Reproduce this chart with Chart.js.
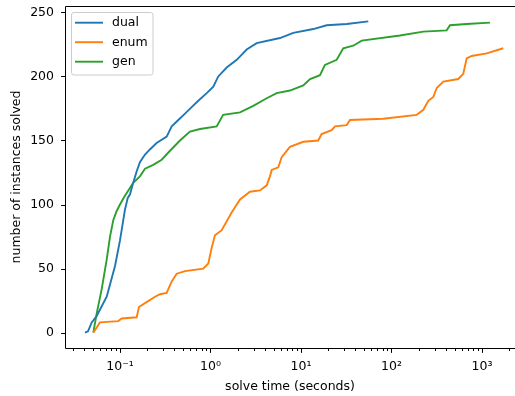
<!DOCTYPE html>
<html>
<head>
<meta charset="utf-8">
<script src="https://cdn.jsdelivr.net/npm/chart.js"></script>
<style>
  html, body { margin: 0; padding: 0; background: #fff; }
</style>
</head>
<body>
<canvas id="chart" width="515" height="396"></canvas>
<script>
const dualTimes = [0.041, 0.0443, 0.0487, 0.0553, 0.0713, 0.0881, 0.100, 0.1135, 0.1216, 0.129, 0.140, 0.153, 0.166, 0.189, 0.214, 0.254, 0.328, 0.373, 0.441, 0.523, 0.619, 0.733, 0.908, 1.074, 1.219, 1.51, 1.95, 2.51, 3.24, 5.86, 8.22, 13.7, 19.2, 32.0, 55.4];
const dualSolved = [0, 1, 8, 13, 28, 52, 72, 96, 105, 108, 117, 126, 133, 139, 143, 148, 153, 161, 166, 171, 176, 181, 187, 192, 200, 207, 213, 221, 226, 230, 234, 237, 240, 241, 243];

const enumTimes = [0.0507, 0.0553, 0.0601, 0.0958, 0.1044, 0.153, 0.162, 0.189, 0.244, 0.277, 0.328, 0.373, 0.423, 0.523, 0.832, 0.946, 1.03, 1.12, 1.33, 1.72, 2.12, 2.73, 3.52, 4.18, 4.54, 4.75, 5.61, 6.12, 7.55, 10.6, 15.5, 16.9, 21.8, 23.8, 32.0, 34.8, 81.1, 190, 225, 255, 290, 316, 374, 547, 621, 677, 769, 1127, 1718];
const enumSolved = [0, 4, 8, 9, 11, 12, 20, 23, 28, 30, 31, 40, 46, 48, 50, 54, 66, 76, 80, 94, 104, 110, 111, 115, 122, 127, 129, 137, 145, 149, 150, 155, 158, 161, 162, 166, 167, 170, 174, 181, 184, 191, 196, 198, 202, 214, 216, 218, 222];

const genTimes = [0.0507, 0.0553, 0.0628, 0.0713, 0.0776, 0.0844, 0.0919, 0.100, 0.1116, 0.1236, 0.140, 0.166, 0.189, 0.233, 0.289, 0.357, 0.460, 0.593, 0.766, 1.17, 1.38, 2.12, 2.97, 4.18, 5.39, 7.55, 10.6, 12.6, 16.2, 18.4, 24.8, 29.3, 37.8, 46.9, 124, 225, 407, 443, 677, 1225];
const genSolved = [0, 15, 34, 57, 75, 88, 95, 100, 106, 111, 117, 122, 128, 131, 135, 142, 150, 157, 159, 161, 170, 172, 177, 183, 187, 189, 193, 198, 201, 209, 213, 222, 224, 228, 232, 235, 236, 240, 241, 242];

const xTickValues = [0.1, 1, 10, 100, 1000];
const xTickLabels = ['10⁻¹', '10⁰', '10¹', '10²', '10³'];
const yTickValues = [0, 50, 100, 150, 200, 250];

const font = { family: 'DejaVu Sans', size: 12.5 };

function toPoints(xs, ys) {
    return xs.map((x, i) => ({ x: x, y: ys[i] }));
}

function series(label, xs, ys, color) {
    return {
        label: label,
        data: toPoints(xs, ys),
        borderColor: color,
        backgroundColor: color,
        borderWidth: 1.9,
        pointRadius: 0,
        tension: 0,
        fill: false
    };
}

// spines, tick marks and the boxed legend, matplotlib style
const decor = {
    id: 'decor',
    afterDraw(chart) {
        const { ctx, chartArea: a, scales: { x, y } } = chart;
        ctx.save();
        ctx.strokeStyle = '#000';
        ctx.lineWidth = 1;
        const L = Math.floor(a.left) + 0.5, T = Math.floor(a.top) + 0.5, B = Math.floor(a.bottom) + 0.5;
        ctx.beginPath();
        ctx.moveTo(a.right + 1, T);
        ctx.lineTo(L, T);
        ctx.lineTo(L, B);
        ctx.lineTo(a.right + 1, B);
        ctx.stroke();

        ctx.beginPath();
        yTickValues.forEach(v => {
            const py = Math.round(y.getPixelForValue(v)) + 0.5;
            ctx.moveTo(L, py);
            ctx.lineTo(L - 4.4, py);
        });
        for (let d = -2; d <= 3; d++) {
            for (let m = 1; m <= 9; m++) {
                const v = m * Math.pow(10, d);
                if (v < x.min || v > x.max) continue;
                const px = Math.round(x.getPixelForValue(v)) + 0.5;
                ctx.moveTo(px, B);
                ctx.lineTo(px, B + (m === 1 ? 4.4 : 2.5));
            }
        }
        ctx.stroke();

        // legend
        ctx.beginPath();
        ctx.roundRect(71.5, 12.5, 81.5, 62.5, 2.5);
        ctx.fillStyle = 'rgba(255,255,255,0.8)';
        ctx.fill();
        ctx.strokeStyle = '#cccccc';
        ctx.stroke();
        ctx.font = `${font.size}px ${font.family}`;
        ctx.textBaseline = 'middle';
        chart.data.datasets.forEach((ds, i) => {
            const ry = 22.7 + i * 19.5;
            ctx.beginPath();
            ctx.strokeStyle = ds.borderColor;
            ctx.lineWidth = 1.9;
            ctx.moveTo(75, ry);
            ctx.lineTo(103, ry);
            ctx.stroke();
            ctx.fillStyle = '#000';
            ctx.fillText(ds.label, 112, ry + 0.5);
        });
        ctx.restore();
    }
};

new Chart(document.getElementById('chart'), {
    type: 'line',
    data: {
        datasets: [
            series('dual', dualTimes, dualSolved, '#1f77b4'),
            series('enum', enumTimes, enumSolved, '#ff7f0e'),
            series('gen', genTimes, genSolved, '#2ca02c')
        ]
    },
    options: {
        responsive: false,
        animation: false,
        devicePixelRatio: 1,
        layout: { padding: { top: 6, right: 0, bottom: 0, left: 0 } },
        plugins: {
            legend: { display: false },
            tooltip: { enabled: false }
        },
        scales: {
            x: {
                type: 'logarithmic',
                min: 0.02468,
                max: 2316,
                afterBuildTicks: scale => {
                    scale.ticks = xTickValues.map(v => ({ value: v }));
                },
                afterFit: scale => {
                    scale.height = 48;
                    scale.paddingLeft = 0;
                    scale.paddingRight = 0;
                },
                grid: { display: false, drawTicks: false },
                border: { display: false },
                ticks: {
                    autoSkip: false,
                    maxRotation: 0,
                    padding: 11,
                    font: font,
                    color: '#000',
                    callback: v => xTickLabels[xTickValues.indexOf(v)]
                },
                title: {
                    display: true,
                    text: 'solve time (seconds)',
                    font: font,
                    color: '#000',
                    padding: { top: 0, bottom: 1.5 }
                }
            },
            y: {
                min: -12,
                max: 255,
                afterBuildTicks: scale => {
                    scale.ticks = yTickValues.map(v => ({ value: v }));
                },
                afterFit: scale => {
                    scale.width = 65;
                    scale.paddingTop = 0;
                    scale.paddingBottom = 0;
                },
                grid: { display: false, drawTicks: false },
                border: { display: false },
                ticks: {
                    padding: 11,
                    font: font,
                    color: '#000'
                },
                title: {
                    display: true,
                    text: 'number of instances solved',
                    font: font,
                    color: '#000',
                    padding: { top: 9, bottom: 0 }
                }
            }
        }
    },
    plugins: [decor]
});
</script>
</body>
</html>
